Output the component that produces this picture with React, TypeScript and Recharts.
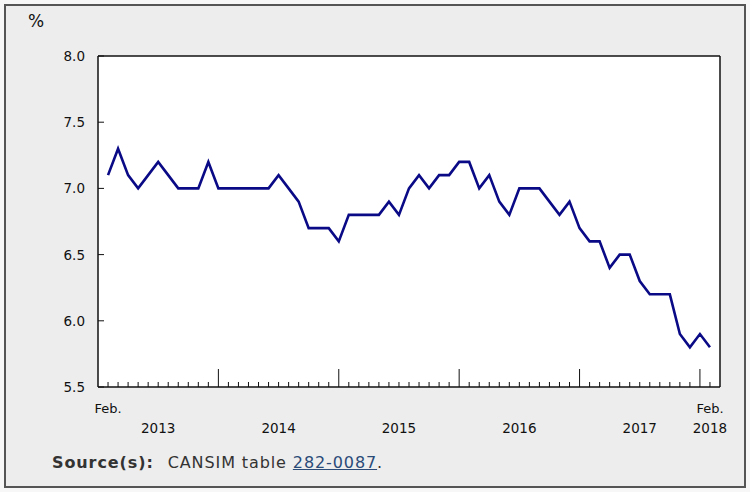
import { LineChart, Line, XAxis, YAxis, CartesianGrid, ReferenceLine } from 'recharts';

// monthly rate, Feb 2013 (index 0) to Feb 2018 (index 60)
const rates = [
  7.1, 7.3, 7.1, 7.0, 7.1, 7.2, 7.1, 7.0, 7.0, 7.0, 7.2,
  7.0, 7.0, 7.0, 7.0, 7.0, 7.0, 7.1, 7.0, 6.9, 6.7, 6.7, 6.7,
  6.6, 6.8, 6.8, 6.8, 6.8, 6.9, 6.8, 7.0, 7.1, 7.0, 7.1, 7.1,
  7.2, 7.2, 7.0, 7.1, 6.9, 6.8, 7.0, 7.0, 7.0, 6.9, 6.8, 6.9,
  6.7, 6.6, 6.6, 6.4, 6.5, 6.5, 6.3, 6.2, 6.2, 6.2, 5.9, 5.8,
  5.9, 5.8,
];
const yTicks = [5.5, 6.0, 6.5, 7.0, 7.5, 8.0];
const yearLabels = ['2013', '2014', '2015', '2016', '2017', '2018'];
const yearLabelIndex = [5, 17, 29, 41, 53, 60];
const monthLabelIndex = [0, 60];
const monthLabel = 'Feb.';

const data = rates.map((v, i) => ({ i, v }));
const xTicks = rates.map((_, i) => i);

const FONT = '"DejaVu Sans", Verdana, sans-serif';

const XTick = (props: any) => {
  const { x, y, payload } = props;
  const i = payload.value;
  // January ticks are the tall ones
  const h = (i + 1) % 12 === 0 ? 18 : 5;
  const yi = yearLabelIndex.indexOf(i);
  return (
    <g>
      <line x1={x} x2={x} y1={y} y2={y - h} stroke="#111" strokeWidth={1} />
      {monthLabelIndex.includes(i) && (
        <text x={x} y={y + 26} textAnchor="middle" fontSize={13} fill="#111" fontFamily={FONT}>
          {monthLabel}
        </text>
      )}
      {yi >= 0 && (
        <text x={x} y={y + 46} textAnchor="middle" fontSize={13.5} fill="#111" fontFamily={FONT}>
          {yearLabels[yi]}
        </text>
      )}
    </g>
  );
};

const YTick = (props: any) => {
  const { x, y, payload } = props;
  return (
    <g>
      <line x1={x} x2={x + 6} y1={y} y2={y} stroke="#111" strokeWidth={1} />
      <text x={x - 13} y={y + 5} textAnchor="end" fontSize={13.5} fill="#111" fontFamily={FONT}>
        {payload.value.toFixed(1)}
      </text>
    </g>
  );
};

export default function App() {
  return (
    <div style={{ position: 'absolute', left: 0, top: 0, width: 750, height: 492, background: '#f7f7f7', fontFamily: FONT }}>
      <div style={{ position: 'absolute', left: 4, top: 4, width: 738, height: 480, background: '#ededed', border: '2px solid #555' }} />
      <div style={{ position: 'absolute', left: 28, top: 11, fontSize: 17, color: '#111' }}>%</div>
      <div style={{ position: 'absolute', left: 0, top: 0 }}>
        <LineChart width={750} height={492} data={data} margin={{ top: 56, right: 30, bottom: 0, left: 0 }}>
          <CartesianGrid fill="#fff" horizontal={false} vertical={false} />
          <XAxis
            dataKey="i"
            type="number"
            domain={[-1, 61]}
            ticks={xTicks}
            interval={0}
            height={105}
            tickSize={0}
            tickMargin={0}
            tickLine={false}
            axisLine={{ stroke: '#111', strokeWidth: 1.5 }}
            tick={<XTick />}
          />
          <YAxis
            type="number"
            domain={[5.5, 8.0]}
            ticks={yTicks}
            width={98}
            tickSize={0}
            tickMargin={0}
            tickLine={false}
            axisLine={{ stroke: '#111', strokeWidth: 1.5 }}
            tick={<YTick />}
          />
          <ReferenceLine y={8} stroke="#111" strokeWidth={1.5} />
          <ReferenceLine x={61} stroke="#111" strokeWidth={1.5} />
          <Line
            type="linear"
            dataKey="v"
            stroke="#0a0a86"
            strokeWidth={2.6}
            dot={false}
            isAnimationActive={false}
          />
        </LineChart>
      </div>
      <div style={{ position: 'absolute', left: 52, top: 453, fontSize: 16, letterSpacing: 0.9, color: '#333', whiteSpace: 'nowrap' }}>
        <b>Source(s):</b>
        <span style={{ marginLeft: 14 }}>CANSIM table </span>
        <span style={{ color: '#2a4a78', textDecoration: 'underline' }}>282-0087</span>
        <span>.</span>
      </div>
    </div>
  );
}
